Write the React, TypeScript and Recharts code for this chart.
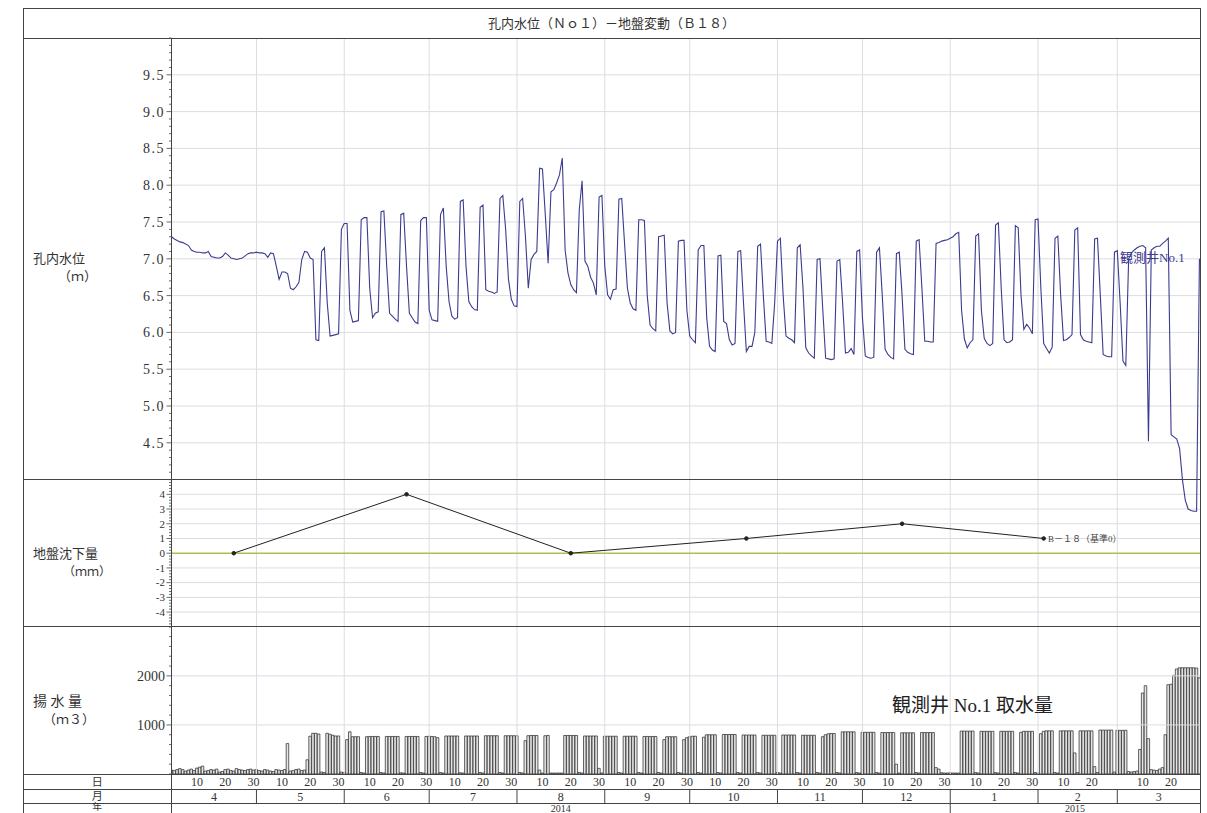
import { Bar, ComposedChart, Line, ReferenceLine, XAxis, YAxis } from "recharts";

// 横軸は 2014/4/1 を 0 とした通日
const MONTH_START = [0, 30, 61, 91, 122, 153, 183, 214, 244, 275, 306, 334];
const MONTH_LEN = [30, 31, 30, 31, 31, 30, 31, 30, 31, 31, 28, 31];
const MONTH_NAME = ["4", "5", "6", "7", "8", "9", "10", "11", "12", "1", "2", "3"];
const YEAR_START = [0, 275];
const YEAR_NAME = ["2014", "2015"];

// 観測井No.1 孔内水位 (m) 日値、1行 = 7日 (火〜月)
const WATER_LEVEL = [
  7.30, 7.27, 7.25, 7.23, 7.22, 7.20, 7.18,
  7.12, 7.10, 7.09, 7.09, 7.08, 7.08, 7.10,
  7.03, 7.02, 7.01, 7.01, 7.03, 7.08, 7.05,
  7.01, 7.00, 6.99, 7.00, 7.01, 7.04, 7.07,
  7.08, 7.08, 7.09, 7.08, 7.08, 7.07, 7.02,
  7.08, 7.07, 6.90, 6.72, 6.82, 6.82, 6.80,
  6.60, 6.58, 6.62, 6.68, 6.99, 7.10, 7.09,
  7.01, 6.99, 5.90, 5.89, 7.10, 7.15, 6.40,
  5.95, 5.96, 5.97, 5.98, 7.40, 7.48, 7.48,
  6.30, 6.14, 6.15, 6.16, 7.53, 7.56, 7.56,
  6.60, 6.20, 6.26, 6.28, 7.64, 7.65, 6.90,
  6.26, 6.22, 6.18, 6.15, 7.60, 7.62, 6.90,
  6.26, 6.20, 6.14, 6.12, 7.52, 7.56, 7.56,
  6.30, 6.17, 6.16, 6.15, 7.60, 7.69, 6.90,
  6.42, 6.22, 6.18, 6.20, 7.78, 7.80, 6.90,
  6.42, 6.35, 6.31, 6.30, 7.70, 7.73, 6.58,
  6.56, 6.55, 6.53, 6.55, 7.82, 7.86, 7.40,
  6.72, 6.45, 6.36, 6.35, 7.78, 7.82, 7.30,
  6.60, 6.99, 7.06, 7.10, 8.23, 8.22, 7.60,
  6.94, 7.91, 7.94, 8.03, 8.14, 8.37, 7.12,
  6.81, 6.65, 6.58, 6.54, 7.67, 8.06, 6.97,
  6.90, 6.75, 6.67, 6.51, 7.84, 7.86, 6.90,
  6.51, 6.45, 6.58, 6.59, 7.81, 7.82, 7.20,
  6.60, 6.40, 6.32, 6.30, 7.53, 7.53, 7.52,
  6.50, 6.10, 6.05, 6.02, 7.30, 7.31, 7.32,
  6.40, 6.02, 5.98, 6.00, 7.24, 7.25, 7.25,
  6.30, 5.95, 5.90, 5.86, 7.12, 7.18, 7.18,
  6.20, 5.81, 5.76, 5.74, 7.04, 7.05, 6.15,
  6.12, 5.90, 5.83, 5.85, 7.10, 7.11, 6.40,
  5.74, 5.81, 5.81, 6.00, 7.17, 7.20, 6.50,
  5.88, 5.87, 5.85, 6.40, 7.24, 7.28, 6.50,
  5.95, 5.92, 5.90, 5.86, 7.15, 7.19, 6.60,
  5.79, 5.72, 5.68, 5.65, 6.99, 7.00, 6.30,
  5.65, 5.64, 5.63, 5.64, 6.97, 6.99, 6.40,
  5.72, 5.73, 5.78, 5.70, 7.10, 7.12, 6.20,
  5.68, 5.66, 5.65, 5.66, 7.09, 7.15, 6.50,
  5.77, 5.70, 5.66, 5.64, 7.07, 7.09, 6.50,
  5.77, 5.73, 5.71, 5.70, 7.24, 7.26, 6.60,
  5.88, 5.88, 5.87, 5.87, 7.21, 7.22, 7.24,
  7.25, 7.26, 7.28, 7.30, 7.34, 7.36, 6.30,
  5.91, 5.79, 5.86, 5.90, 7.31, 7.34, 6.30,
  5.92, 5.85, 5.82, 5.85, 7.46, 7.49, 6.60,
  5.90, 5.86, 5.87, 5.90, 7.45, 7.42, 6.50,
  6.04, 6.11, 6.06, 5.98, 7.53, 7.54, 6.60,
  5.85, 5.78, 5.72, 5.80, 7.28, 7.31, 6.50,
  5.89, 5.90, 5.93, 5.97, 7.39, 7.42, 5.97,
  5.90, 5.88, 5.87, 5.86, 7.27, 7.28, 6.50,
  5.70, 5.68, 5.67, 5.67, 7.09, 7.11, 6.40,
  5.61, 5.55, 7.00, 7.08, 7.12, 7.15, 7.17,
  7.18, 7.15, 4.52, 7.12, 7.15, 7.17, 7.17,
  7.21, 7.24, 7.28, 4.61, 4.58, 4.55, 4.42,
  4.00, 3.72, 3.60, 3.58, 3.57, 3.57, 7.00,
];

// 観測井No.1 取水量 (m3/日)
const PUMPING = [
  80, 70, 90, 110, 90, 60, 80,
  100, 70, 120, 140, 160, 60, 70,
  90, 80, 100, 40, 50, 90, 100,
  70, 60, 110, 90, 80, 70, 90,
  100, 80, 90, 70, 60, 90, 80,
  60, 50, 90, 80, 70, 90, 620,
  60, 70, 90, 100, 70, 80, 290,
  770, 830, 830, 815, 40, 30, 830,
  810, 790, 775, 775, 40, 30, 700,
  860, 760, 760, 760, 30, 20, 760,
  765, 765, 765, 765, 30, 20, 765,
  765, 765, 765, 765, 25, 20, 765,
  765, 765, 765, 765, 30, 20, 765,
  770, 765, 760, 740, 30, 20, 775,
  775, 775, 775, 775, 25, 20, 775,
  775, 775, 775, 775, 30, 20, 780,
  780, 780, 780, 780, 30, 20, 780,
  780, 780, 780, 780, 30, 20, 680,
  780, 785, 785, 785, 80, 20, 780,
  785, 20, 20, 20, 20, 20, 785,
  785, 785, 785, 785, 30, 20, 775,
  775, 775, 775, 775, 115, 20, 770,
  770, 770, 770, 770, 30, 20, 770,
  770, 770, 770, 770, 30, 20, 765,
  765, 765, 765, 765, 30, 20, 700,
  760, 760, 760, 760, 30, 20, 700,
  740, 760, 770, 770, 30, 20, 750,
  800, 800, 800, 800, 30, 20, 805,
  805, 805, 805, 805, 30, 20, 795,
  795, 795, 795, 795, 30, 20, 790,
  790, 790, 790, 790, 30, 20, 795,
  795, 795, 795, 795, 30, 20, 790,
  790, 790, 790, 790, 30, 20, 760,
  800, 820, 825, 825, 30, 20, 860,
  860, 860, 860, 860, 30, 20, 850,
  850, 850, 850, 850, 30, 20, 845,
  845, 845, 845, 845, 200, 20, 840,
  840, 840, 840, 840, 30, 20, 845,
  845, 845, 845, 845, 130, 100, 25,
  20, 20, 25, 20, 20, 20, 875,
  875, 875, 875, 875, 30, 20, 870,
  870, 870, 870, 870, 30, 20, 870,
  870, 870, 870, 870, 30, 20, 850,
  870, 870, 870, 870, 30, 20, 820,
  870, 880, 880, 880, 30, 20, 880,
  880, 880, 880, 880, 430, 30, 880,
  880, 880, 880, 880, 150, 30, 895,
  895, 895, 895, 895, 40, 890, 890,
  890, 890, 50, 40, 50, 60, 500,
  1650, 1800, 720, 90, 80, 70, 100,
  130, 800, 1820, 1830, 2010, 2140, 2165,
  2165, 2165, 2165, 2165, 2165, 2160, 1960,
];

// B-18 地盤沈下量 (mm) 測量日
const SETTLE_DAY = [22, 83, 141, 203, 258, 308];
const SETTLE_MM = [0, 4, 0, 1, 2, 1];

const rows = WATER_LEVEL.map((wl, d) => {
  const k = SETTLE_DAY.indexOf(d);
  return { d, wl, pq: PUMPING[d], gs: k >= 0 ? SETTLE_MM[k] : null };
});

const FONT = '"Liberation Serif", "DejaVu Serif", "Noto Sans CJK JP", serif';
const INK = "#333";
const GRID = "#dcdce4";
const FRAME = "#444";
const WELL = "#3b3b8f";

const PAGE_W = 1207;
const PAGE_H = 813;
const CHART_H = 820;
const FRAME_L = 23;
const LEFT = 171.5;
const RIGHT = 1200;
const TOP = 38;
const BOTTOM = 774;
const ROWS_Y = [774, 789, 803, 817];
const X_END = 363.2;
const PLOT_H = BOTTOM - TOP;
// 水位 60% / 沈下 20% / 揚水 20%
const SPLIT1 = TOP + PLOT_H * 0.6;
const SPLIT2 = TOP + PLOT_H * 0.8;
const BAR_W = (RIGHT - LEFT) / X_END;
// 縦軸3本は幅1pxずつ左に積まれるので、目盛りは常にプロット左端に描く
const Y_AXES = 3;

function steps(a: number, b: number, step: number): number[] {
  const n = Math.round((b - a) / step);
  return Array.from({ length: n + 1 }, (_, i) => Math.round((a + i * step) * 1000) / 1000);
}

const WL_TICKS = steps(4, 10, 0.1);
const GS_TICKS = steps(-5, 5, 0.2);
const PQ_TICKS = steps(0, 3000, 200);

const DAY_TICKS = MONTH_START.flatMap((s, i) =>
  [10, 20, 30].filter((n) => n <= MONTH_LEN[i] && s + n - 1 < X_END - 1).map((n) => s + n - 1),
);
const MONTH_MID = MONTH_START.map((s, i) => (s + (MONTH_START[i + 1] ?? X_END)) / 2);
const YEAR_MID = YEAR_START.map((s, i) => (s + (YEAR_START[i + 1] ?? X_END)) / 2);

function dayOfMonth(v: number): number {
  let i = MONTH_START.length - 1;
  while (MONTH_START[i] > v) i--;
  return v - MONTH_START[i] + 1;
}

const near = (a: number, b: number) => Math.abs(a - b) < 1e-6;
const svgText = { fontFamily: FONT, fill: INK };

function YTick({ y, major, text, size, spacing = 0 }: { y: number; major: boolean; text: string; size: number; spacing?: number }) {
  const x = LEFT;
  return (
    <g>
      <line x1={x - (major ? 5 : 2.5)} x2={x} y1={y} y2={y} stroke={FRAME} strokeWidth={0.8} />
      {major && (
        <text x={x - 6.5} y={y} dy={size * 0.35} textAnchor="end" style={{ ...svgText, fontSize: size, letterSpacing: spacing }}>
          {text}
        </text>
      )}
    </g>
  );
}

function WlTick({ y, payload }: any) {
  const v = payload.value as number;
  const major = near(v * 2, Math.round(v * 2)) && v > 4.2 && v < 9.8;
  return <YTick y={y} major={major} text={v.toFixed(1)} size={14} spacing={1.5} />;
}

function GsTick({ y, payload }: any) {
  const v = payload.value as number;
  const major = near(v, Math.round(v)) && Math.abs(v) <= 4;
  return <YTick y={y} major={major} text={String(v)} size={11} />;
}

function PqTick({ y, payload }: any) {
  const v = payload.value as number;
  const major = v === 1000 || v === 2000;
  return <YTick y={y} major={major} text={String(v)} size={14} />;
}

function DayTick({ x, y, payload }: any) {
  return (
    <text x={x} y={y + 8} dominantBaseline="central" textAnchor="middle" style={{ ...svgText, fontSize: 12 }}>
      {dayOfMonth(payload.value)}
    </text>
  );
}

function MonthTick({ x, y, payload }: any) {
  const v = payload.value as number;
  const i = MONTH_MID.indexOf(v);
  if (i < 0) return <line x1={x} x2={x} y1={y} y2={y + 14} stroke={FRAME} />;
  return (
    <text x={x} y={y + 7.5} dominantBaseline="central" textAnchor="middle" style={{ ...svgText, fontSize: 12 }}>
      {MONTH_NAME[i]}
    </text>
  );
}

function YearTick({ x, y, payload }: any) {
  const v = payload.value as number;
  const i = YEAR_MID.indexOf(v);
  if (i < 0) return <line x1={x} x2={x} y1={y} y2={y + 14} stroke={FRAME} />;
  return (
    <text x={x} y={y + 5.5} dominantBaseline="central" textAnchor="middle" style={{ ...svgText, fontSize: 10 }}>
      {YEAR_NAME[i]}
    </text>
  );
}

function HLine({ y, x1 = FRAME_L, x2 = RIGHT }: { y: number; x1?: number; x2?: number }) {
  return (
    <div style={{ position: "absolute", left: x1, top: y - 0.5, width: x2 - x1 + 1, height: 1, background: FRAME }} />
  );
}

function VLine({ x, y1, y2 }: { x: number; y1: number; y2: number }) {
  return <div style={{ position: "absolute", left: x - 0.5, top: y1, width: 1, height: y2 - y1, background: FRAME }} />;
}

function Label({ x, y, size = 13, color = INK, children, center = false }: any) {
  return (
    <div
      style={{
        position: "absolute",
        left: x,
        top: y,
        transform: center ? "translate(-50%, -50%)" : "translateY(-50%)",
        fontSize: size,
        color,
        lineHeight: 1,
        whiteSpace: "nowrap",
      }}
    >
      {children}
    </div>
  );
}

const xCommon = {
  type: "number" as const,
  dataKey: "d",
  domain: [0, X_END],
  allowDataOverflow: true,
  interval: 0 as const,
  tickSize: 0,
  tickMargin: 0,
  axisLine: false,
  tickLine: false,
};

const yCommon = {
  type: "number" as const,
  width: 1,
  allowDataOverflow: true,
  interval: 0 as const,
  tickSize: 0,
  tickMargin: 0,
  axisLine: false,
  tickLine: false,
};

export default function App() {
  return (
    <div
      style={{
        position: "absolute",
        left: 0,
        top: 0,
        width: PAGE_W,
        height: PAGE_H,
        overflow: "hidden",
        background: "#fff",
        fontFamily: FONT,
      }}
    >
      <div style={{ position: "absolute", left: 0, top: 0 }}>
        <ComposedChart
          width={PAGE_W}
          height={CHART_H}
          data={rows}
          margin={{ top: TOP, left: LEFT - Y_AXES, right: PAGE_W - RIGHT, bottom: CHART_H - ROWS_Y[3] }}
          barGap={0}
          barCategoryGap={0}
        >
          <XAxis {...xCommon} height={ROWS_Y[1] - ROWS_Y[0]} ticks={DAY_TICKS} tick={(p: any) => <DayTick {...p} />} />
          <XAxis
            {...xCommon}
            xAxisId="month"
            height={ROWS_Y[2] - ROWS_Y[1]}
            ticks={[...MONTH_START.slice(1), ...MONTH_MID].sort((a, b) => a - b)}
            tick={(p: any) => <MonthTick {...p} />}
          />
          <XAxis
            {...xCommon}
            xAxisId="year"
            height={ROWS_Y[3] - ROWS_Y[2]}
            ticks={[...YEAR_START.slice(1), ...YEAR_MID].sort((a, b) => a - b)}
            tick={(p: any) => <YearTick {...p} />}
          />
          <YAxis {...yCommon} yAxisId="wl" domain={[0, 10]} ticks={WL_TICKS} tick={(p: any) => <WlTick {...p} />} />
          <YAxis {...yCommon} yAxisId="gs" domain={[-15, 35]} ticks={GS_TICKS} tick={(p: any) => <GsTick {...p} />} />
          <YAxis {...yCommon} yAxisId="pq" domain={[0, 15000]} ticks={PQ_TICKS} tick={(p: any) => <PqTick {...p} />} />

          {steps(4.5, 9.5, 0.5).map((v) => (
            <ReferenceLine key={`wl${v}`} yAxisId="wl" y={v} stroke={GRID} />
          ))}
          {steps(-4, 4, 1)
            .filter((v) => v !== 0)
            .map((v) => (
              <ReferenceLine key={`gs${v}`} yAxisId="gs" y={v} stroke={GRID} />
            ))}
          {[1000, 2000].map((v) => (
            <ReferenceLine key={`pq${v}`} yAxisId="pq" y={v} stroke={GRID} />
          ))}
          {MONTH_START.slice(1).map((s) => (
            <ReferenceLine key={`m${s}`} yAxisId="wl" x={s} stroke={GRID} />
          ))}
          <ReferenceLine yAxisId="gs" y={0} stroke="#b3bb4e" strokeWidth={1.4} />

          <Bar
            yAxisId="pq"
            dataKey="pq"
            barSize={BAR_W}
            fill="#e6e6e6"
            stroke="#222"
            strokeWidth={0.7}
            isAnimationActive={false}
          />
          <Line
            yAxisId="wl"
            dataKey="wl"
            type="linear"
            stroke={WELL}
            strokeWidth={1.1}
            dot={false}
            isAnimationActive={false}
          />
          <Line
            yAxisId="gs"
            dataKey="gs"
            type="linear"
            stroke="#222"
            strokeWidth={1}
            connectNulls
            dot={{ r: 1.8, fill: "#222", stroke: "#222" }}
            isAnimationActive={false}
          />
        </ComposedChart>
      </div>

      {/* 枠線 */}
      <HLine y={8} />
      <HLine y={TOP} />
      <HLine y={SPLIT1} />
      <HLine y={SPLIT2} />
      {ROWS_Y.slice(0, 3).map((y) => (
        <HLine key={y} y={y} />
      ))}
      <VLine x={FRAME_L} y1={8} y2={PAGE_H} />
      <VLine x={RIGHT} y1={8} y2={PAGE_H} />
      <VLine x={LEFT} y1={TOP} y2={PAGE_H} />

      <Label x={(FRAME_L + RIGHT) / 2} y={23} center>
        孔内水位（Ｎｏ１）－地盤変動（Ｂ１８）
      </Label>

      <Label x={33} y={258}>孔内水位</Label>
      <Label x={58} y={276}>（ｍ）</Label>
      <Label x={33} y={553}>地盤沈下量</Label>
      <Label x={63} y={572} size={12}>（ｍｍ）</Label>
      <Label x={33} y={702} size={14}>揚 水 量</Label>
      <Label x={43} y={719}>（ｍ３）</Label>

      <Label x={(FRAME_L + LEFT) / 2} y={781.5} size={11} center>日</Label>
      <Label x={(FRAME_L + LEFT) / 2} y={796} size={11} center>月</Label>
      <Label x={(FRAME_L + LEFT) / 2} y={808} size={9.5} center>年</Label>

      <Label x={1120} y={257} color={WELL}>観測井No.1</Label>
      <Label x={1048} y={538.5} size={9} color="#444">B－１８（基準0）</Label>
      <Label x={892} y={705} size={19} color="#222">観測井 No.1 取水量</Label>
    </div>
  );
}
